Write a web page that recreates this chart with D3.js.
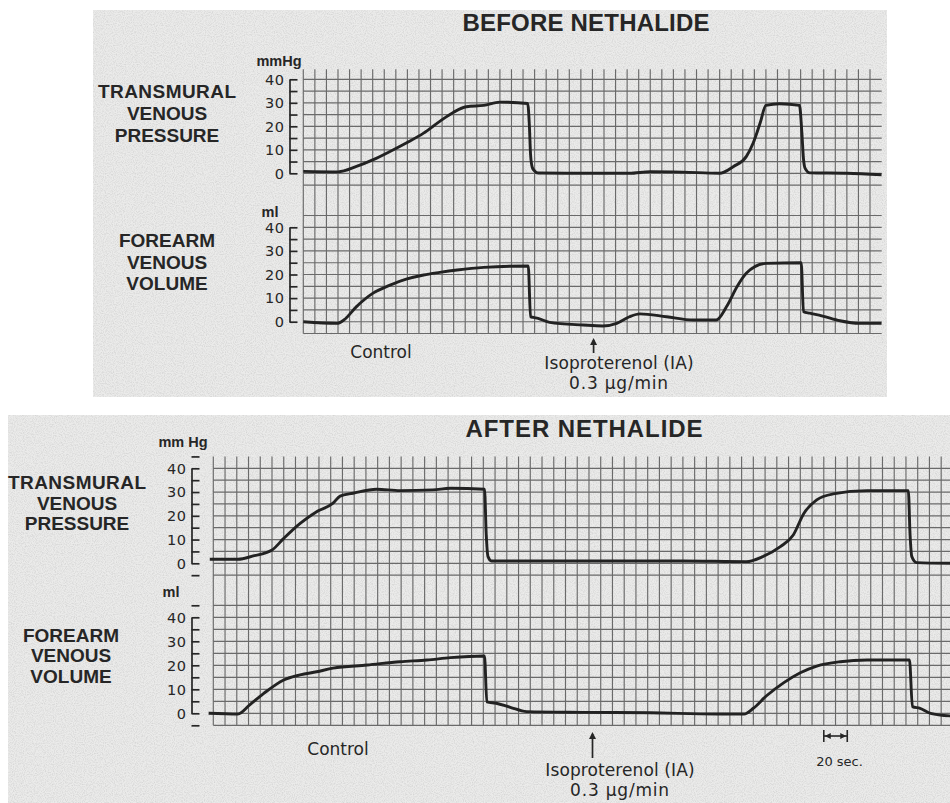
<!DOCTYPE html>
<html>
<head>
<meta charset="utf-8">
<script src="https://cdn.jsdelivr.net/npm/d3@7"></script>
<style>
  html, body { margin: 0; padding: 0; background: #ffffff; }
  svg { display: block; }
  text { font-family: "Liberation Sans", Arial, sans-serif; fill: #262626; }
  text.lettering { font-family: "DejaVu Sans", sans-serif; }
</style>
</head>
<body>
<svg id="chart" width="950" height="803"></svg>
<script>
// ---------------- DATA (time in seconds; 1 grid square = 10 s) ----------------
const panelTitles = ["BEFORE NETHALIDE", "AFTER NETHALIDE"];
const pressureLabel = ["TRANSMURAL", "VENOUS", "PRESSURE"];
const volumeLabel = ["FOREARM", "VENOUS", "VOLUME"];
const pressureUnits = ["mmHg", "mm Hg"];
const volumeUnit = "ml";
const tickLabels = [0, 10, 20, 30, 40];
const controlLabel = "Control";
const drugLabel = ["Isoproterenol (IA)", "0.3 \u03bcg/min"];
const scaleBarLabel = "20 sec.";

// Before Nethalide - transmural venous pressure (mmHg)
const beforePressureTime = [0, 30, 46, 60, 75, 89, 104, 118, 130, 141, 156, 170, 194, 195.5, 196.5, 198, 200, 203, 240, 282, 300, 328, 360, 372, 383, 389, 395, 400, 412, 429, 431, 432.5, 434, 438, 470, 500];
const beforePressure     = [0.8, 0.6, 2.9, 5.7, 9.3, 12.9, 17.1, 22.1, 26, 28.3, 28.9, 30.3, 29.7, 20, 8, 2.5, 1, 0.1, 0, 0, 0.7, 0.5, 0, 2.9, 7.1, 12.9, 21.4, 28.9, 29.6, 28.9, 18, 6, 2, 0.2, 0, -0.6];
// Before Nethalide - forearm venous volume (ml)
const beforeVolumeTime = [0, 29, 35, 46, 60, 75, 89, 104, 118, 133, 156, 194.5, 196.5, 199, 203, 213, 242, 259, 271, 282, 291, 314, 337, 357, 366, 375, 383, 400, 430.5, 432.5, 438, 449, 464, 481, 500];
const beforeVolume     = [0, -0.7, 0.7, 6.4, 12, 15.5, 18, 19.8, 20.9, 21.9, 23, 23.6, 2.1, 1.8, 1.4, -0.3, -1.4, -1.8, -0.7, 2.1, 3.3, 2.1, 0.7, 0.7, 6.4, 14.8, 20.5, 24.7, 25, 4.2, 3.6, 2.4, 0.4, -0.7, -0.7];
// After Nethalide - transmural venous pressure (mmHg)
const afterPressureTime = [-3, 21, 34, 50, 60, 74, 88, 102, 108, 119, 139, 159, 187, 202, 231, 232.5, 234, 237, 287, 344, 400, 454, 468, 483, 494, 503, 514, 528, 557, 592, 593.5, 595, 599, 628];
const afterPressure     = [1.7, 1.7, 3.1, 5.6, 10.5, 16.8, 21.7, 25.3, 28.3, 29.5, 31.2, 30.6, 30.9, 31.6, 31.2, 12, 2.8, 1, 1, 1, 1, 0.7, 2.8, 7, 11.9, 21, 26.7, 29.2, 30.6, 30.6, 12, 2.8, 0.3, 0];
// After Nethalide - forearm venous volume (ml)
const afterVolumeTime = [-4, 21, 31, 43, 60, 74, 88, 102, 131, 159, 182, 202, 231, 233, 241, 253, 267, 315, 372, 429, 452, 460, 471, 486, 500, 514, 534, 557, 593, 595.5, 602, 611, 628];
const afterVolume     = [0, -0.3, 3.5, 8.3, 13.9, 16, 17.3, 18.8, 20.1, 21.5, 22.2, 23.2, 23.9, 4.8, 4.2, 2.5, 0.7, 0.4, 0.2, -0.3, -0.3, 2.1, 7.2, 12.8, 16.9, 19.7, 21.5, 22.2, 22.2, 2.8, 2.1, 0, -1.1];

// Event marks (seconds)
const beforeDrugTime = 251;
const afterDrugTime = 323;
const scaleBarTimes = [520, 540];

// ---------------- LAYOUT ----------------
const svg = d3.select("#chart");
const defs = svg.append("defs");
const filt = defs.append("filter").attr("id", "paper").attr("x", 0).attr("y", 0).attr("width", "100%").attr("height", "100%");
filt.append("feTurbulence").attr("type", "fractalNoise").attr("baseFrequency", 0.9).attr("numOctaves", 2).attr("seed", 3).attr("result", "n");
filt.append("feColorMatrix").attr("in", "n").attr("type", "matrix")
  .attr("values", "0 0 0 0 0.55  0 0 0 0 0.55  0 0 0 0 0.55  0 0 0 -1.2 0.75").attr("result", "g");
filt.append("feComposite").attr("in", "g").attr("in2", "SourceGraphic").attr("operator", "in").attr("result", "gc");
filt.append("feMerge").selectAll("feMergeNode").data(["SourceGraphic", "gc"]).join("feMergeNode").attr("in", d => d);

const panels = [
  {
    title: panelTitles[0], titleX: 586, titleY: 31, titleLen: 247,
    bg: [93, 10, 794, 387],
    x0: 0, x1: 490, xr: [303.3, 870], lineEnd: 881.7,
    pY: [173.3, 79.3], pGrid: [-5, 40], pStubTop: 44.3,
    vY: [321.7, 227.3], vGrid: [-5, 45],
    axisX: 289.5, unitX: 279, unitY: 66, unit: pressureUnits[0], mlX: 270, mlY: 217,
    labelX: 167, pLabelY: [98, 120, 142], vLabelY: [247, 269, 290],
    pT: beforePressureTime, pV: beforePressure, vT: beforeVolumeTime, vV: beforeVolume,
    control: [381, 358], drugT: beforeDrugTime, drugLabelX: 619, drugTop: 338, drugBottom: 353, drugY: [369, 389],
    scaleBar: false
  },
  {
    title: panelTitles[1], titleX: 584, titleY: 437, titleLen: 237,
    bg: [8, 415, 942, 388],
    x0: 0, x1: 630, xr: [213.3, 213.3 + 63 * 11.74], lineEnd: 950,
    pY: [563.3, 468.3], pGrid: [-5, 40], pStubTop: 45, pAxis: [-5, 45],
    vY: [713.3, 617.3], vGrid: [-5, 45], vAxis: [-5, 45],
    axisX: 191.5, unitX: 183, unitY: 447, unit: pressureUnits[1], mlX: 171, mlY: 597,
    labelX: 77, pLabelY: [489, 510, 530], vLabelY: [642, 662, 683], vLabelX: 71,
    pT: afterPressureTime, pV: afterPressure, vT: afterVolumeTime, vV: afterVolume,
    control: [338, 755], drugT: afterDrugTime, drugLabelX: 620, drugTop: 732, drugBottom: 758, drugY: [776, 796],
    scaleBar: true
  }
];

panels.forEach(p => {
  const g = svg.append("g");
  // paper background
  g.append("rect").attr("x", p.bg[0]).attr("y", p.bg[1]).attr("width", p.bg[2]).attr("height", p.bg[3])
    .attr("fill", "#ebebea").attr("filter", "url(#paper)");

  const x = d3.scaleLinear().domain([p.x0, p.x1]).range(p.xr);
  const yP = d3.scaleLinear().domain([0, 40]).range(p.pY);
  const yV = d3.scaleLinear().domain([0, 40]).range(p.vY);

  const gridColor = "#6a6a6a";
  const vTicks = d3.range(p.x0, p.x1 + 0.1, 10).filter(t => x(t) <= 949.5);
  // vertical grid lines spanning both tracks
  g.append("g").selectAll("line").data(vTicks).join("line")
    .attr("x1", d => x(d)).attr("x2", d => x(d))
    .attr("y1", yP(p.pStubTop)).attr("y2", yV(p.vGrid[0]))
    .attr("stroke", gridColor).attr("stroke-width", 1.15);
  // horizontal grid lines
  const hP = d3.range(p.pGrid[0], p.pGrid[1] + 0.1, 5);
  g.append("g").selectAll("line").data(hP).join("line")
    .attr("x1", x(p.x0)).attr("x2", p.lineEnd)
    .attr("y1", d => yP(d)).attr("y2", d => yP(d))
    .attr("stroke", gridColor).attr("stroke-width", 1.15);
  const hV = d3.range(p.vGrid[0], p.vGrid[1] + 0.1, 5);
  g.append("g").selectAll("line").data(hV).join("line")
    .attr("x1", x(p.x0)).attr("x2", p.lineEnd)
    .attr("y1", d => yV(d)).attr("y2", d => yV(d))
    .attr("stroke", gridColor).attr("stroke-width", 1.15);

  // bracket axes
  function bracket(scale, dom) {
    const ax = d3.axisRight(scale)
      .tickValues(d3.range(dom[0], dom[1] + 0.1, 5))
      .tickSize(8).tickSizeOuter(0)
      .tickFormat("");
    const a = g.append("g").attr("transform", `translate(${p.axisX},0)`).call(ax);
    a.select(".domain").attr("stroke", "#262626").attr("stroke-width", 1.7);
    a.selectAll(".tick line").attr("stroke", "#262626").attr("stroke-width", 1.7);
    g.append("g").selectAll("text").data(tickLabels).join("text")
      .attr("class", "lettering")
      .attr("x", p.axisX - 5).attr("y", d => scale(d)).attr("dy", "0.37em")
      .attr("text-anchor", "end").attr("font-size", 14.5).attr("letter-spacing", 0.5).text(d => d);
  }
  bracket(yP, p.pAxis || [0, 40]);
  bracket(yV, p.vAxis || [0, 40]);

  // units
  g.append("text").attr("x", p.unitX).attr("y", p.unitY).attr("text-anchor", "middle")
    .attr("font-size", 14.5).attr("font-weight", "bold").text(p.unit);
  g.append("text").attr("x", p.mlX).attr("y", p.mlY).attr("text-anchor", "middle")
    .attr("font-size", 14.5).attr("font-weight", "bold").text(volumeUnit);

  // track labels
  g.append("g").selectAll("text").data(pressureLabel).join("text")
    .attr("x", p.labelX).attr("y", (d, i) => p.pLabelY[i]).attr("text-anchor", "middle")
    .attr("font-size", 19).attr("font-weight", "bold").attr("textLength", (d, i) => i === 0 ? 138 : null)
    .text(d => d);
  g.append("g").selectAll("text").data(volumeLabel).join("text")
    .attr("x", p.vLabelX || p.labelX).attr("y", (d, i) => p.vLabelY[i]).attr("text-anchor", "middle")
    .attr("font-size", 19).attr("font-weight", "bold").text(d => d);

  // title
  g.append("text").attr("x", p.titleX).attr("y", p.titleY).attr("text-anchor", "middle")
    .attr("font-size", 24).attr("font-weight", "bold")
    .attr("textLength", p.titleLen).attr("lengthAdjust", "spacing").text(p.title);

  // traces
  const line = (ys) => d3.line().x(d => x(d[0])).y(d => ys(d[1])).curve(d3.curveMonotoneX);
  g.append("path").datum(d3.zip(p.pT, p.pV)).attr("d", line(yP))
    .attr("fill", "none").attr("stroke", "#222").attr("stroke-width", 2.9).attr("stroke-linejoin", "round");
  g.append("path").datum(d3.zip(p.vT, p.vV)).attr("d", line(yV))
    .attr("fill", "none").attr("stroke", "#222").attr("stroke-width", 2.9).attr("stroke-linejoin", "round");

  // annotations
  g.append("text").attr("class", "lettering").attr("x", p.control[0]).attr("y", p.control[1]).attr("text-anchor", "middle")
    .attr("font-size", 17).text(controlLabel);
  const ax = x(p.drugT);
  g.append("line").attr("x1", ax).attr("x2", ax).attr("y1", p.drugTop + 2).attr("y2", p.drugBottom)
    .attr("stroke", "#262626").attr("stroke-width", 1.7);
  g.append("path").attr("d", `M${ax - 3.5},${p.drugTop + 7} L${ax},${p.drugTop} L${ax + 3.5},${p.drugTop + 7} Z`).attr("fill", "#262626");
  g.append("g").selectAll("text").data(drugLabel).join("text")
    .attr("class", "lettering")
    .attr("x", p.drugLabelX).attr("y", (d, i) => p.drugY[i]).attr("text-anchor", "middle")
    .attr("font-size", 17).attr("letter-spacing", (d, i) => i === 1 ? 0.8 : 0.1).text(d => d);

  if (p.scaleBar) {
    const sx0 = x(scaleBarTimes[0]), sx1 = x(scaleBarTimes[1]), sy = 736;
    const sb = g.append("g").attr("stroke", "#262626").attr("stroke-width", 1.6);
    sb.append("line").attr("x1", sx0).attr("x2", sx1).attr("y1", sy).attr("y2", sy);
    sb.append("line").attr("x1", sx0).attr("x2", sx0).attr("y1", sy - 6).attr("y2", sy + 6);
    sb.append("line").attr("x1", sx1).attr("x2", sx1).attr("y1", sy - 6).attr("y2", sy + 6);
    g.append("path").attr("d", `M${sx0 + 1},${sy} l6,-3 l0,6 Z M${sx1 - 1},${sy} l-6,-3 l0,6 Z`).attr("fill", "#262626");
    g.append("text").attr("class", "lettering").attr("x", (sx0 + sx1) / 2 + 4).attr("y", 766).attr("text-anchor", "middle")
      .attr("font-size", 13).text(scaleBarLabel);
  }
});
</script>
</body>
</html>
